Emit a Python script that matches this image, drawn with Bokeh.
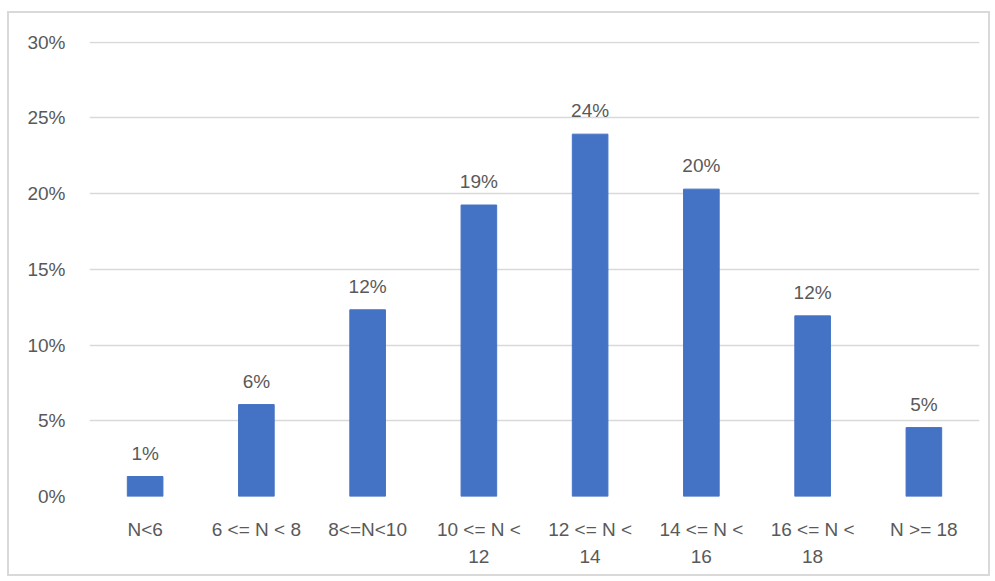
from bokeh.plotting import figure
from bokeh.models import ColumnDataSource, Range1d, FactorRange, NumeralTickFormatter, FixedTicker
from bokeh.core.properties import value
from bokeh.embed import file_html
from bokeh.resources import INLINE

categories = ["N<6", "6 <= N < 8", "8<=N<10", "10 <= N <\n12", "12 <= N <\n14",
              "14 <= N <\n16", "16 <= N <\n18", "N >= 18"]
shares = [0.0132, 0.0607, 0.1233, 0.1925, 0.2393, 0.2030, 0.1193, 0.0455]
y_ticks = [0.0, 0.05, 0.10, 0.15, 0.20, 0.25, 0.30]
labels = [f"{round(v * 100):d}%" for v in shares]

src = ColumnDataSource(dict(cat=categories, val=shares, lab=labels))

FONT = "Liberation Sans"
GREY = "#595959"

p = figure(x_range=FactorRange(*categories, range_padding=0), y_range=Range1d(0, 0.3005),
           width=983, height=565, output_backend="svg", toolbar_location=None,
           min_border_left=80, min_border_right=13, min_border_top=28, min_border_bottom=82)
p.styles = {"border": "2px solid #d9d9d9", "margin-top": "11px", "margin-left": "7px"}
p.outline_line_color = None

p.vbar(x="cat", top="val", width=0.32, source=src, fill_color="#4472C4", line_color="#4472C4")
p.text(x="cat", y="val", text="lab", source=src, text_align="center", text_baseline="bottom",
       y_offset=-13, text_font=value(FONT), text_font_size="19px", text_color=GREY)

p.yaxis.ticker = FixedTicker(ticks=y_ticks)
p.yaxis.formatter = NumeralTickFormatter(format="0%")
p.yaxis.axis_line_color = None
p.yaxis.major_tick_line_color = None
p.yaxis.minor_tick_line_color = None
p.yaxis.major_label_text_font = FONT
p.yaxis.major_label_text_font_size = "19px"
p.yaxis.major_label_text_color = GREY
p.yaxis.major_label_standoff = 18

p.xaxis.axis_line_color = None
p.xaxis.major_tick_line_color = None
p.xaxis.major_label_text_font = FONT
p.xaxis.major_label_text_font_size = "19px"
p.xaxis.major_label_text_color = GREY
p.xaxis.major_label_standoff = 16
p.xaxis.major_label_text_line_height = 1.3

p.xgrid.grid_line_color = None
p.ygrid.grid_line_color = "#d9d9d9"
p.ygrid.grid_line_width = 1.5

open("out.html", "w").write(file_html(p, INLINE))
